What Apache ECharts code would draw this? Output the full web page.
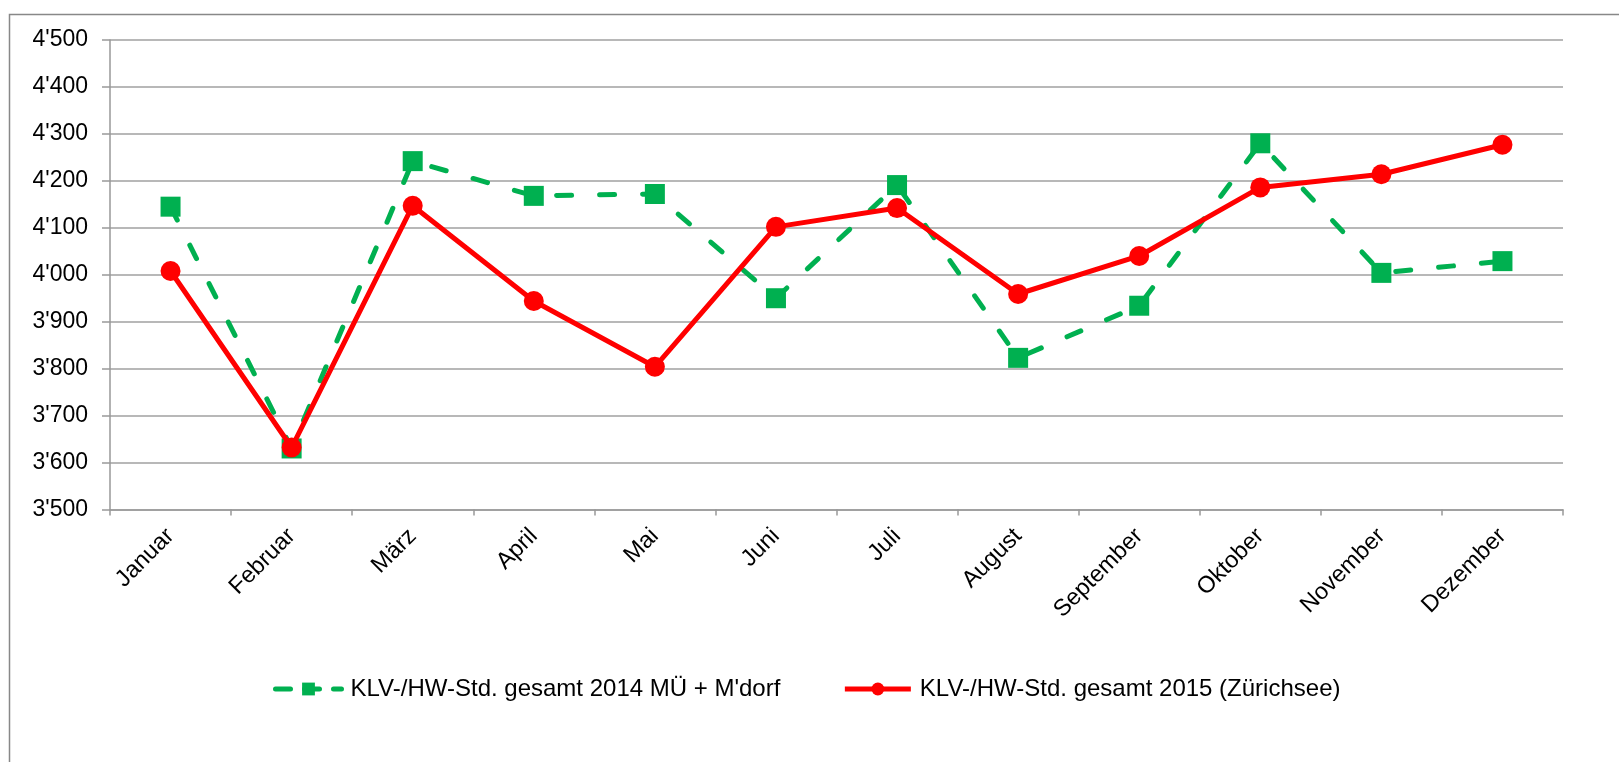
<!DOCTYPE html>
<html>
<head>
<meta charset="utf-8">
<script src="https://cdn.jsdelivr.net/npm/echarts@6/dist/echarts.min.js"></script>
<style>
  html, body { margin: 0; padding: 0; background: #ffffff; }
  #chart { width: 1619px; height: 762px; }
</style>
</head>
<body>
<div id="chart"></div>
<script>
const categories = ['Januar', 'Februar', 'März', 'April', 'Mai', 'Juni', 'Juli', 'August', 'September', 'Oktober', 'November', 'Dezember'];
const seriesNames = ["KLV-/HW-Std. gesamt 2014 MÜ + M'dorf", 'KLV-/HW-Std. gesamt 2015 (Zürichsee)'];
const values2014 = [4145, 3630, 4242, 4168, 4172, 3950, 4191, 3823, 3934, 4280, 4004, 4029];
const values2015 = [4008, 3632, 4147, 3944, 3804, 4102, 4142, 3959, 4040, 4186, 4214, 4277];
const yMin = 3500;
const yMax = 4500;
const yStep = 100;

const FONT = '"Liberation Sans", Arial, sans-serif';

function fmtThousands(v) {
  const s = String(Math.round(v));
  return s.replace(/\B(?=(\d{3})+(?!\d))/g, "'");
}

const chart = echarts.init(document.getElementById('chart'), null, { renderer: 'canvas' });

chart.setOption({
  backgroundColor: '#ffffff',
  animation: false,
  textStyle: { fontFamily: FONT },
  graphic: [{
    type: 'rect',
    left: 7, top: 12,
    shape: { x: 0, y: 0, width: 1700, height: 800 },
    style: { fill: 'none', stroke: '#888888', lineWidth: 1.5 },
    silent: true, z: -10
  }],
  grid: { left: 110, right: 56, top: 40, bottom: 252.5, containLabel: false },
  legend: {
    left: 268,
    top: 672,
    itemWidth: 66,
    itemHeight: 16,
    itemGap: 62,
    textStyle: { fontFamily: FONT, fontSize: 24, color: '#000000', padding: [0, 0, 0, 4] },
    data: [
      { name: seriesNames[0], lineStyle: { width: 5, type: [15, 14], cap: 'round' } },
      { name: seriesNames[1], lineStyle: { width: 5 } }
    ]
  },
  xAxis: {
    type: 'category',
    data: categories,
    boundaryGap: true,
    axisLine: { show: true, lineStyle: { color: '#999999', width: 1.5 } },
    axisTick: { show: true, length: 6, alignWithLabel: false, lineStyle: { color: '#999999', width: 1.5 } },
    axisLabel: { rotate: 45, margin: 23, fontFamily: FONT, fontSize: 23.5, color: '#000000' },
    splitLine: { show: false }
  },
  yAxis: {
    type: 'value',
    min: yMin, max: yMax, interval: yStep,
    axisLine: { show: true, lineStyle: { color: '#999999', width: 1.5 } },
    axisTick: { show: true, length: 8, lineStyle: { color: '#999999', width: 1.5 } },
    axisLabel: { margin: 22, fontFamily: FONT, fontSize: 23, color: '#000000', formatter: fmtThousands },
    splitLine: { show: true, lineStyle: { color: '#a0a0a0', width: 1.5 } }
  },
  series: [
    {
      name: seriesNames[0],
      type: 'line',
      data: values2014,
      symbol: 'rect',
      symbolSize: 20,
      showAllSymbol: true,
      itemStyle: { color: '#00b050' },
      lineStyle: { color: '#00b050', width: 5, type: [15, 28], cap: 'round' },
      z: 2
    },
    {
      name: seriesNames[1],
      type: 'line',
      data: values2015,
      symbol: 'circle',
      symbolSize: 20,
      showAllSymbol: true,
      itemStyle: { color: '#ff0000' },
      lineStyle: { color: '#ff0000', width: 5 },
      z: 3
    }
  ]
});
</script>
</body>
</html>
